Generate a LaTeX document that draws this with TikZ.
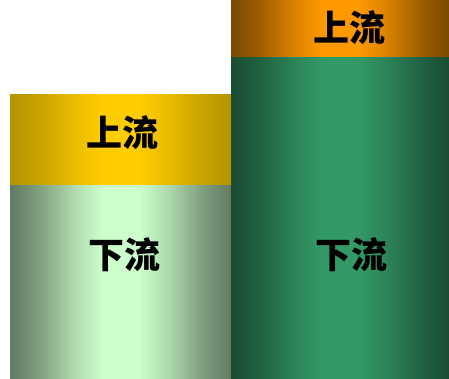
\documentclass[tikz,border=0pt]{standalone}
\usepackage{fontspec}
\newfontfamily\cjk{Noto Sans CJK SC}
\definecolor{goldC}{HTML}{FFCC00}
\definecolor{goldE}{HTML}{B39400}
\definecolor{orangeC}{HTML}{FF9900}
\definecolor{orangeE}{HTML}{7A4800}
\definecolor{lgreenC}{HTML}{CCFFCC}
\definecolor{lgreenE}{HTML}{627A62}
\definecolor{dgreenC}{HTML}{339966}
\definecolor{dgreenE}{HTML}{1A4C33}
\newcommand{\mkcolshade}[3]{%
  \pgfdeclarehorizontalshading{#1}{100bp}{color(0bp)=(#2); color(25bp)=(#2); color(31bp)=(#2!75!#3); color(40bp)=(#2!25!#3); color(46bp)=(#3); color(54bp)=(#3); color(60bp)=(#2!25!#3); color(69bp)=(#2!75!#3); color(75bp)=(#2); color(100bp)=(#2)}}
\mkcolshade{goldsh}{goldE}{goldC}
\mkcolshade{orangesh}{orangeE}{orangeC}
\mkcolshade{lgreensh}{lgreenE}{lgreenC}
\mkcolshade{dgreensh}{dgreenE}{dgreenC}
\tikzset{
  block/.style={rectangle, inner sep=0pt, anchor=north west, draw=none},
  lbl/.style={font=\cjk\bfseries\fontsize{36}{40}\selectfont, text=black, inner sep=0pt}
}
\begin{document}
\begin{tikzpicture}[x=1pt,y=-1pt]
\useasboundingbox (0,0) rectangle (449,379);
% left column
\node[block, minimum width=221pt, minimum height=91pt, shading=goldsh] (lu) at (10,94) {};
\node[block, minimum width=221pt, minimum height=194pt, shading=lgreensh] (ld) at (10,185) {};
% right column
\node[block, minimum width=218pt, minimum height=57pt, shading=orangesh] (ru) at (231,0) {};
\node[block, minimum width=218pt, minimum height=322pt, shading=dgreensh] (rd) at (231,57) {};
% labels
\node[lbl] (tlu) at (122.5,132.5) {上流};
\node[lbl] (tld) at (124,255) {下流};
\node[lbl] (tru) at (349,27.5) {上流};
\node[lbl] (trd) at (351,255) {下流};
\end{tikzpicture}
\end{document}
